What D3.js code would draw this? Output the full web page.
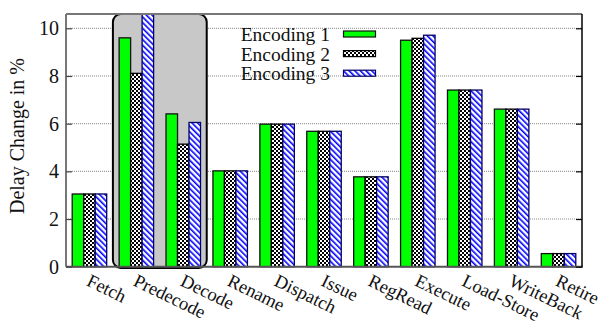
<!DOCTYPE html>
<html>
<head>
<meta charset="utf-8">
<script src="https://cdn.jsdelivr.net/npm/d3@7"></script>
<style>
  html, body { margin: 0; padding: 0; background: #fff; }
  svg { display: block; }
  svg text { font-family: "Liberation Serif", "Times New Roman", Times, Tinos, "Noto Serif", "DejaVu Serif", serif; }
</style>
</head>
<body>
<svg id="chart" width="603" height="327"></svg>
<script>
// Pipeline stages along the x axis
const stages = ["Fetch", "Predecode", "Decode", "Rename", "Dispatch", "Issue",
                "RegRead", "Execute", "Load-Store", "WriteBack", "Retire"];
// Delay change (%) per stage for each encoding
const encoding1 = [3.05, 9.6, 6.41, 4.02, 5.98, 5.68, 3.77, 9.5, 7.41, 6.61, 0.55];
const encoding2 = [3.05, 8.11, 5.14, 4.02, 5.98, 5.68, 3.77, 9.58, 7.41, 6.61, 0.55];
const encoding3 = [3.05, 10.6, 6.05, 4.02, 5.98, 5.68, 3.77, 9.71, 7.41, 6.61, 0.55];
const seriesNames = ["Encoding 1", "Encoding 2", "Encoding 3"];
const yTicks = [0, 2, 4, 6, 8, 10];
const highlighted = ["Predecode", "Decode"];

const series = [encoding1, encoding2, encoding3];
const FONT = "'Liberation Serif', 'Times New Roman', Times, Tinos, 'Noto Serif', 'DejaVu Serif', serif";

const svg = d3.select("#chart");
const margin = { left: 66, right: 21, top: 14 };
const W = 603;
const x0 = margin.left, x1 = W - margin.right;
const yTop = margin.top, yBot = 266.7;

const x = d3.scaleBand().domain(stages).range([x0, x1]).padding(0);
const groupWidth = x.bandwidth() * 0.735;
const xs = d3.scaleBand().domain(d3.range(series.length))
  .range([(x.bandwidth() - groupWidth) / 2, (x.bandwidth() + groupWidth) / 2]).padding(0);
const y = d3.scaleLinear().domain([0, 10.6]).range([yBot, yTop]);

// Fill patterns
const defs = svg.append("defs");
const checker = defs.append("pattern").attr("id", "checker")
  .attr("patternUnits", "userSpaceOnUse").attr("width", 4).attr("height", 4);
checker.append("rect").attr("width", 4).attr("height", 4).attr("fill", "#000");
checker.append("rect").attr("x", 0).attr("y", 0).attr("width", 2).attr("height", 2).attr("fill", "#fff");
checker.append("rect").attr("x", 2).attr("y", 2).attr("width", 2).attr("height", 2).attr("fill", "#fff");

const stripes = defs.append("pattern").attr("id", "stripes")
  .attr("patternUnits", "userSpaceOnUse").attr("width", 4).attr("height", 4)
  .attr("patternTransform", "rotate(-45)");
stripes.append("rect").attr("width", 4).attr("height", 4).attr("fill", "#fff");
stripes.append("rect").attr("x", 0).attr("y", 0).attr("width", 1.6).attr("height", 4).attr("fill", "#0000ff");

const fills = ["#00ff00", "url(#checker)", "url(#stripes)"];
const strokes = ["#111", "#000", "#000066"];

// Dotted grid
svg.append("g").selectAll("line").data(yTicks.filter(d => d > 0)).join("line")
  .attr("x1", x0).attr("x2", x1)
  .attr("y1", d => y(d)).attr("y2", d => y(d))
  .attr("stroke", "#888").attr("stroke-width", 1).attr("stroke-dasharray", "1,1");

// Highlight box around Predecode and Decode
const hx0 = x(highlighted[0]);
const hx1 = x(highlighted[highlighted.length - 1]) + x.bandwidth();
svg.append("rect")
  .attr("x", hx0).attr("y", yTop).attr("width", hx1 - hx0).attr("height", yBot + 1.2 - yTop)
  .attr("rx", 8).attr("ry", 8)
  .attr("fill", "#c8c8c8").attr("stroke", "#000").attr("stroke-width", 2);

// Bars
const plot = svg.append("g");
series.forEach((vals, si) => {
  plot.append("g").selectAll("rect").data(vals).join("rect")
    .attr("x", (d, i) => x(stages[i]) + xs(si))
    .attr("y", d => y(d))
    .attr("width", xs.bandwidth())
    .attr("height", d => yBot - y(d))
    .attr("fill", fills[si])
    .attr("stroke", strokes[si]).attr("stroke-width", 1.3);
});

// Border
svg.append("line").attr("x1", x0).attr("x2", x0).attr("y1", yTop).attr("y2", yBot)
  .attr("stroke", "#777").attr("stroke-width", 2);
svg.append("line").attr("x1", x0).attr("x2", x1).attr("y1", yTop).attr("y2", yTop)
  .attr("stroke", "#777").attr("stroke-width", 2);
svg.append("line").attr("x1", x0).attr("x2", x1 + 1).attr("y1", yBot).attr("y2", yBot)
  .attr("stroke", "#555").attr("stroke-width", 2);
svg.append("line").attr("x1", x1).attr("x2", x1).attr("y1", yTop).attr("y2", yBot)
  .attr("stroke", "#000").attr("stroke-width", 1.5);

// Y axis ticks and labels
const yAxisLeft = d3.axisLeft(y).tickValues(yTicks).tickSize(-6).tickPadding(7);
const gl = svg.append("g").attr("transform", `translate(${x0},0)`).call(yAxisLeft);
gl.attr("font-family", FONT).attr("font-size", 20);
gl.select(".domain").remove();
gl.selectAll(".tick line").attr("stroke", "#444").attr("stroke-width", 1.2);
gl.selectAll(".tick text").attr("fill", "#111").attr("font-family", FONT);

const yAxisRight = d3.axisRight(y).tickValues(yTicks).tickSize(-6).tickFormat("");
const gr = svg.append("g").attr("transform", `translate(${x1},0)`).call(yAxisRight);
gr.select(".domain").remove();
gr.selectAll(".tick line").attr("stroke", "#000").attr("stroke-width", 1.2);

// X labels, rotated
svg.append("g").selectAll("text").data(stages).join("text")
  .attr("transform", d => `translate(${x(d) + x.bandwidth() / 2 - 4},285) rotate(26)`)
  .attr("font-family", FONT).attr("font-size", 18.5).attr("fill", "#111")
  .text(d => d);

// Y axis title
svg.append("text")
  .attr("transform", `translate(24,136) rotate(-90)`)
  .attr("text-anchor", "middle").attr("font-family", FONT).attr("font-size", 20).attr("fill", "#111")
  .text("Delay Change in %");

// Legend
const legend = svg.append("g");
seriesNames.forEach((name, i) => {
  const cy = 34 + i * 19.6;
  legend.append("text").attr("x", 330).attr("y", cy + 7).attr("text-anchor", "end")
    .attr("font-family", FONT).attr("font-size", 19.5).attr("fill", "#111").text(name);
  legend.append("rect").attr("x", 343.5).attr("y", cy - 3).attr("width", 32).attr("height", 6)
    .attr("fill", fills[i]).attr("stroke", strokes[i]).attr("stroke-width", 1.2);
});
</script>
</body>
</html>
